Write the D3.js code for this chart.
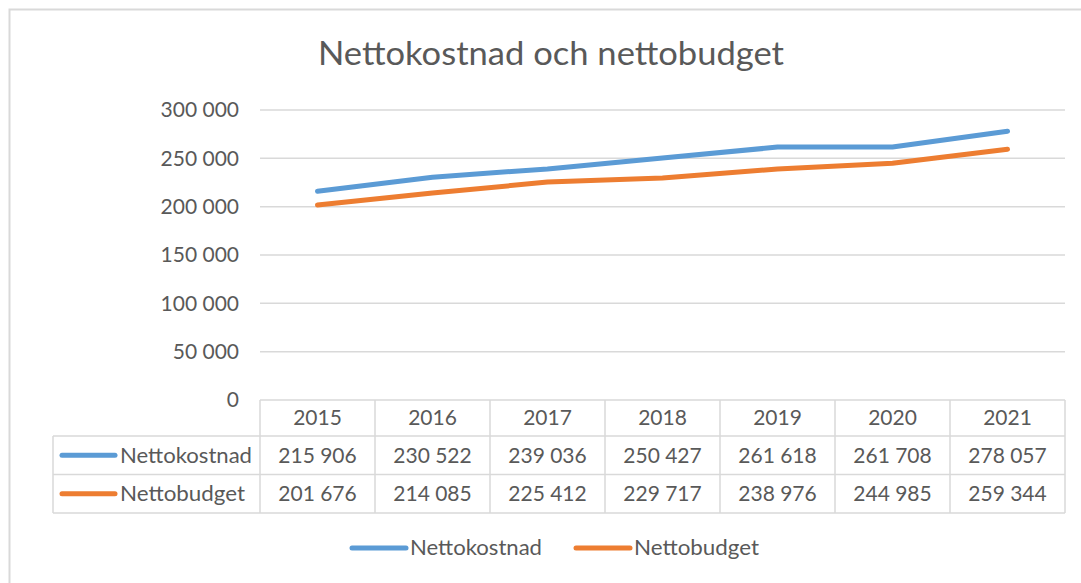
<!DOCTYPE html>
<html><head><meta charset="utf-8">
<script src="https://cdn.jsdelivr.net/npm/d3@7"></script>
<style>body{margin:0;background:#fff;}svg{display:block;font-family:Lato,"Open Sans",sans-serif;}</style>
</head><body>
<svg id="c" width="1081" height="583"></svg>
<script>
const years = ["2015","2016","2017","2018","2019","2020","2021"];
const seriesNames = ["Nettokostnad","Nettobudget"];
const nettokostnad = [215906,230522,239036,250427,261618,261708,278057];
const nettobudget = [201676,214085,225412,229717,238976,244985,259344];
const yTicks = [0,50000,100000,150000,200000,250000,300000];
const colors = ["#5B9BD5","#ED7D31"];
const title = "Nettokostnad och nettobudget";

const svg = d3.select("#c");
const fmt = v => d3.format(",")(v).replace(/,/g," ");
const textCol = "#595959", gridCol = "#d9d9d9";
const fs = 21;
const nameLen = [132,125];

svg.append("rect").attr("x",9.5).attr("y",9.5).attr("width",1200).attr("height",700)
  .attr("fill","#fff").attr("stroke","#d9d9d9").attr("stroke-width",2);

svg.append("text").attr("x",551).attr("y",65).attr("text-anchor","middle")
  .attr("font-size",33).attr("fill",textCol).attr("textLength",466).attr("lengthAdjust","spacingAndGlyphs").text(title);

const x = d3.scaleBand().domain(years).range([260,1065]);
const y = d3.scaleLinear().domain([0,300000]).range([400,110]);

// gridlines
svg.append("g").selectAll("line").data(yTicks.filter(d=>d>0)).join("line")
  .attr("x1",260).attr("x2",1065).attr("y1",d=>y(d)).attr("y2",d=>y(d))
  .attr("stroke",gridCol).attr("stroke-width",1.5);

// y axis labels
const yAxis = d3.axisLeft(y).tickValues(yTicks).tickFormat(fmt).tickSize(0).tickPadding(0);
const ya = svg.append("g").attr("transform","translate(239,0)").call(yAxis);
ya.select(".domain").remove();
ya.selectAll("text").attr("font-size",fs).attr("fill",textCol).attr("font-family","Lato,sans-serif").attr("dy","0.32em");

// lines
const line = d3.line().x((d,i)=>x(years[i])+x.bandwidth()/2).y(d=>y(d));
[nettokostnad,nettobudget].forEach((s,k)=>{
  svg.append("path").datum(s).attr("d",line).attr("fill","none")
    .attr("stroke",colors[k]).attr("stroke-width",5).attr("stroke-linecap","round").attr("stroke-linejoin","round");
});

// data table
const rowTop=[400,436,474.5,513];
const tb = svg.append("g").attr("stroke",gridCol).attr("stroke-width",1.5);
tb.append("line").attr("x1",260).attr("x2",1065).attr("y1",rowTop[0]).attr("y2",rowTop[0]);
[1,2,3].forEach(i=>tb.append("line").attr("x1",53).attr("x2",1065).attr("y1",rowTop[i]).attr("y2",rowTop[i]));
years.forEach(yr=>tb.append("line").attr("x1",x(yr)).attr("x2",x(yr)).attr("y1",rowTop[0]).attr("y2",rowTop[3]));
tb.append("line").attr("x1",1065).attr("x2",1065).attr("y1",rowTop[0]).attr("y2",rowTop[3]);
tb.append("line").attr("x1",53).attr("x2",53).attr("y1",rowTop[1]).attr("y2",rowTop[3]);

const tt = svg.append("g").attr("font-size",fs).attr("fill",textCol).attr("text-anchor","middle");
years.forEach(yr=>tt.append("text").attr("x",x(yr)+x.bandwidth()/2).attr("y",(rowTop[0]+rowTop[1])/2).attr("dy","0.35em").text(yr));
[nettokostnad,nettobudget].forEach((s,k)=>{
  s.forEach((v,i)=>tt.append("text").attr("x",x(years[i])+x.bandwidth()/2).attr("y",(rowTop[k+1]+rowTop[k+2])/2).attr("dy","0.35em").text(fmt(v)));
  const cy=(rowTop[k+1]+rowTop[k+2])/2;
  svg.append("line").attr("x1",62).attr("x2",115).attr("y1",cy).attr("y2",cy).attr("stroke",colors[k]).attr("stroke-width",5).attr("stroke-linecap","round");
  svg.append("text").attr("x",120).attr("y",cy).attr("dy","0.35em").attr("font-size",fs).attr("fill",textCol)
    .attr("textLength",nameLen[k]).attr("lengthAdjust","spacingAndGlyphs").text(seriesNames[k]);
});

// legend
const legX=[352,576];
seriesNames.forEach((n,k)=>{
  svg.append("line").attr("x1",legX[k]).attr("x2",legX[k]+54).attr("y1",548).attr("y2",548).attr("stroke",colors[k]).attr("stroke-width",5).attr("stroke-linecap","round");
  svg.append("text").attr("x",legX[k]+58).attr("y",548).attr("dy","0.35em").attr("font-size",fs).attr("fill",textCol)
    .attr("textLength",nameLen[k]).attr("lengthAdjust","spacingAndGlyphs").text(n);
});
</script></body></html>
